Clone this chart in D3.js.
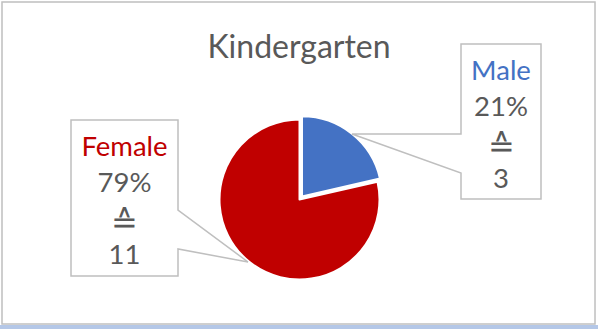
<!DOCTYPE html>
<html>
<head>
<meta charset="utf-8">
<script src="https://cdn.jsdelivr.net/npm/d3@7"></script>
<style>
  html, body { margin: 0; padding: 0; background: #fff; }
  svg { display: block; }
</style>
</head>
<body>
<div id="chart"></div>
<script>
// Kindergarten enrolment by gender
const title = "Kindergarten";
const categories = ["Male", "Female"];
const counts = [3, 11];
const sliceColors = ["#4472c4", "#c00000"];

const W = 598, H = 329;
const FONT = "Lato, 'Open Sans', sans-serif";
const grey = "#595959";
const lineGrey = "#bfbfbf";

const svg = d3.select("#chart").append("svg")
  .attr("width", W).attr("height", H);

// chart area frame
svg.append("rect").attr("x", 0).attr("y", 325).attr("width", W).attr("height", 4)
  .attr("fill", "#b4c7e7");
svg.append("rect").attr("x", 2).attr("y", 2).attr("width", 593).attr("height", 322)
  .attr("fill", "#fff").attr("stroke", lineGrey).attr("stroke-width", 1.5);

svg.append("text")
  .attr("x", 299).attr("y", 58)
  .attr("text-anchor", "middle")
  .attr("font-family", FONT).attr("font-size", 32)
  .attr("fill", grey)
  .text(title);

const cx = 299.5, cy = 199.5, R = 80;
const total = d3.sum(counts);
const data = categories.map((c, i) => ({ name: c, value: counts[i], color: sliceColors[i] }));

const pie = d3.pie().sort(null).value(d => d.value);
const arcs = pie(data);
const arc = d3.arc().innerRadius(0).outerRadius(R);
const explode = [4, 0];

const g = svg.append("g").attr("transform", `translate(${cx},${cy})`);
g.selectAll("path").data(arcs).join("path")
  .attr("d", arc)
  .attr("transform", (d, i) => {
    const a = (d.startAngle + d.endAngle) / 2;
    return `translate(${Math.sin(a) * explode[i]},${-Math.cos(a) * explode[i]})`;
  })
  .attr("fill", d => d.data.color)
  .attr("stroke", "#fff").attr("stroke-width", 2).attr("stroke-linejoin", "round");

// callout boxes: [left, top, right, bottom], pointer tip and notch attachment
const callouts = [
  { box: [461, 44, 541, 199], tip: [352, 134], side: "left", notch: [134, 173] },
  { box: [71, 120, 178, 276], tip: [248, 262], side: "right", notch: [210, 249] }
];

arcs.forEach((d, i) => {
  const c = callouts[i];
  const [l, t, r, b] = c.box;
  let pts;
  if (c.side === "left") {
    pts = [[l, t], [r, t], [r, b], [l, b], [l, c.notch[1]], c.tip, [l, c.notch[0]]];
  } else {
    pts = [[l, t], [r, t], [r, c.notch[0]], c.tip, [r, c.notch[1]], [r, b], [l, b]];
  }
  svg.append("path")
    .attr("d", d3.line()(pts) + "Z")
    .attr("fill", "#fff").attr("stroke", lineGrey).attr("stroke-width", 1.5)
    .attr("stroke-linejoin", "miter");

  const mx = (l + r) / 2;
  const pct = Math.round(d.data.value / total * 100) + "%";
  const lines = [
    { t: d.data.name, fill: d.data.color, size: 27.5 },
    { t: pct, fill: grey, size: 27.5 },
    { t: "\u2259", fill: grey, size: 32, dy: 5 },
    { t: String(d.data.value), fill: grey, size: 27.5 }
  ];
  const firstBase = t + 36;
  lines.forEach((ln, k) => {
    svg.append("text")
      .attr("x", mx).attr("y", firstBase + k * 36 + (ln.dy || 0))
      .attr("text-anchor", "middle")
      .attr("font-family", FONT).attr("font-size", ln.size)
      .attr("fill", ln.fill)
      .text(ln.t);
  });
});
</script>
</body>
</html>
